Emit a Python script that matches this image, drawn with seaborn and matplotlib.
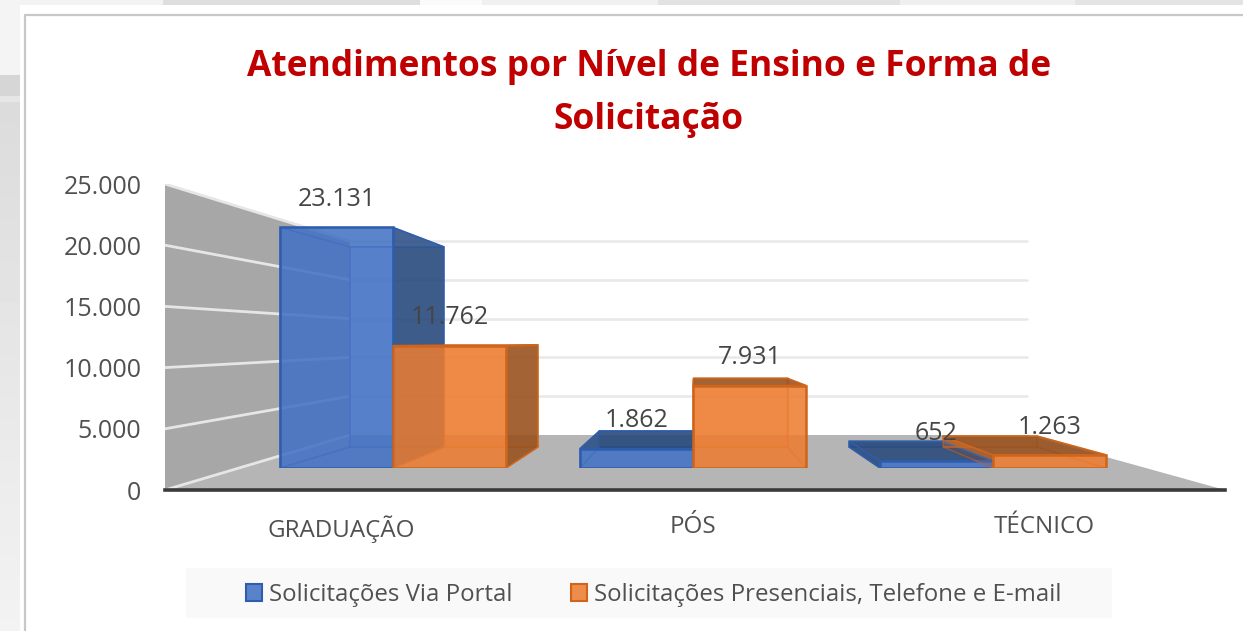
# -*- coding: utf-8 -*-
import numpy as np
import pandas as pd
import matplotlib
matplotlib.use('Agg')
import matplotlib.pyplot as plt
from matplotlib.colors import to_rgba
from matplotlib.patches import Polygon, Patch, Rectangle
import seaborn as sns

niveis = ['GRADUAÇÃO', 'PÓS', 'TÉCNICO']
formas = ['Solicitações Via Portal', 'Solicitações Presenciais, Telefone e E-mail']
via_portal = [23131, 1862, 652]
presenciais = [11762, 7931, 1263]
y_ticks = [0, 5000, 10000, 15000, 20000, 25000]
titulo = 'Atendimentos por Nível de Ensino e Forma de\nSolicitação'

cores = ['#4472C4', '#ED7D31']
bordas = ['#2F5DAE', '#CF651D']
escuras = ['#254778', '#954F1C']

W, H = 1243, 631


def caixa(l, t, r, b):
    # posicao do eixo em pixels da imagem
    return [l / W, 1 - b / H, (r - l) / W, (b - t) / H]


def milhar(v):
    return f'{v:,}'.replace(',', '.')


sns.set_style('white')
plt.rcParams['font.family'] = ['Open Sans', 'DejaVu Sans']
fig = plt.figure(figsize=(W / 100, H / 100), dpi=100, facecolor='white')

# fundo do slide e moldura do cartao
bg = fig.add_axes([0, 0, 1, 1], zorder=0)
bg.set_xlim(0, W)
bg.set_ylim(H, 0)
bg.axis('off')
for x0, x1, c in [(0, 163, '#F3F3F3'), (163, 420, '#DEDEDE'), (420, 482, '#FAFAFA'),
                  (482, 658, '#EFF0F0'), (658, 900, '#E2E2E2'), (900, 1075, '#EEF0EF'),
                  (1075, 1243, '#E4E4E4')]:
    bg.add_patch(Rectangle((x0, 0), x1 - x0, 5, fc=c, ec='none'))
bg.add_patch(Rectangle((0, 0), 20, 75, fc='#F4F4F4', ec='none'))
bg.add_patch(Rectangle((0, 75), 20, 21, fc='#D6D6D6', ec='none'))
bg.add_patch(Rectangle((0, 96), 20, 6, fc='#E6E6E6', ec='none'))
bg.imshow(np.linspace(0.86, 0.95, 50).reshape(-1, 1), extent=(0, 20, H, 102), cmap='gray',
          vmin=0, vmax=1, aspect='auto')
bg.set_xlim(0, W)
bg.set_ylim(H, 0)
bg.plot([25, 25, W], [H, 14.5, 14.5], color='#C8C8C8', lw=1.6)
bg.text(649, 67, titulo.split('\n')[0], color='#C00000', fontsize=25.5, fontweight='bold',
        ha='center', va='center')
bg.text(649, 120, titulo.split('\n')[1], color='#C00000', fontsize=25.5, fontweight='bold',
        ha='center', va='center')

# legenda
bg.add_patch(Rectangle((186, 568), 926, 50, fc='#F9F9F9', ec='none'))
handles = [Patch(fc=to_rgba(c, 0.88), ec=e, lw=1.5) for c, e in zip(cores, bordas)]
bg.legend(handles, formas, loc='center', bbox_to_anchor=(654, 595),
          bbox_transform=bg.transData, ncol=2, frameon=False, fontsize=17.3,
          labelcolor='#505050', handlelength=0.66, handleheight=0.66, handletextpad=0.28,
          columnspacing=2.45)

# paredes e chao
wall = fig.add_axes(caixa(165, 184, 1225, 490), zorder=1)
wall.patch.set_alpha(0)
wall.set_xlim(0, 1)
wall.set_ylim(0, 25000)
back_l, back_r = (350 - 165) / 1060, (1027 - 165) / 1060
back_y0, back_y1 = (490 - 435) / 0.01224, (490 - 241) / 0.01224


def no_fundo(v):
    return back_y0 + v * (back_y1 - back_y0) / 25000


wall.add_patch(Polygon([(0, 0), (0, 25000), (back_l, no_fundo(25000)), (back_l, no_fundo(0))],
                       fc='#A7A7A7', ec='none'))
wall.add_patch(Polygon([(0, 0), (back_l, no_fundo(0)), (back_r, no_fundo(0)), (1, 0)],
                       fc='#B5B5B5', ec='none'))
for v in y_ticks:
    wall.plot([0, back_l], [v, no_fundo(v)], color='#E6E6E6', lw=2)
    if v > 0:
        wall.plot([back_l, back_r], [no_fundo(v)] * 2, color='#E8E8E8', lw=1.8)
sns.despine(ax=wall, left=True, top=True, right=True)
wall.spines['bottom'].set_color('#3A3A3A')
wall.spines['bottom'].set_linewidth(2.6)
wall.set_yticks(y_ticks)
wall.set_yticklabels([milhar(v) for v in y_ticks], fontsize=18, color='#505050',
                     va='center_baseline')
wall.set_xticks([(341 - 165) / 1060, (693 - 165) / 1060, (1044 - 165) / 1060])
wall.set_xticklabels(niveis, fontsize=17.4, color='#505050')
wall.tick_params(axis='y', length=0, pad=17)
wall.tick_params(axis='x', length=0, pad=18)

# barras: a face da frente vem do seaborn, o resto e perspectiva a partir dela
df = pd.DataFrame({
    'nivel': niveis * 2,
    'forma': [formas[0]] * 3 + [formas[1]] * 3,
    'valor': via_portal + presenciais,
})
ax = fig.add_axes(caixa(165, 184, 1225, 468), zorder=2)
ax.patch.set_alpha(0)
sns.barplot(data=df, x='nivel', y='valor', hue='forma', hue_order=formas, order=niveis,
            palette=cores, width=0.7533, gap=0, saturation=1, legend=False, ax=ax)
ax.set_xlim((165 - 393) / 300, (1225 - 393) / 300)
ax.set_ylim(0, (468 - 184) / 0.0104)
ax.axis('off')

# ponto de fuga e profundidade das barras
vx = (696 - 393) / 300
vy = (468 - 343) / 0.0104
k = 0.168


def atras(x, y):
    return x + k * (vx - x), y + k * (vy - y)


barras = [p for p in ax.patches if p.get_height() > 0]
for i, p in enumerate(barras):
    s = i // 3
    z = 3 + 2 * s + i % 3 * 0.01
    x0, x1, y1 = p.get_x(), p.get_x() + p.get_width(), p.get_height()
    fl = (x0, 0), (x1, 0), (x1, y1), (x0, y1)
    bl = [atras(*c) for c in fl]
    faces = {'baixo': (0, 1), 'dir': (1, 2), 'topo': (2, 3), 'esq': (3, 0)}
    interna = to_rgba(bordas[s], 0.55)
    ax.add_patch(Polygon(bl, fc=to_rgba(cores[s], 0.3), ec=interna, lw=1.1, zorder=z))
    for nome, (a, b) in faces.items():
        fora = ((nome == 'dir' and bl[1][0] > x1) or (nome == 'esq' and bl[0][0] < x0)
                or (nome == 'topo' and bl[2][1] > y1))
        fc = to_rgba(escuras[s], 0.85) if fora else to_rgba(cores[s], 0.15)
        # face esquerda laranja fica atras da barra azul vizinha
        zf = 2.5 if (nome == 'esq' and s == 1) else z + 0.1
        ax.add_patch(Polygon([fl[a], fl[b], bl[b], bl[a]], fc=fc,
                             ec=bordas[s] if fora else interna, lw=1.1, zorder=zf))
    p.set_facecolor(to_rgba(cores[s], 0.85))
    p.set_edgecolor(bordas[s])
    p.set_linewidth(1.8)
    p.set_zorder(z + 0.5)
    ax.annotate(milhar(int(y1)), (x0 / 2 + x1 / 2, y1), xytext=(0, 20),
                textcoords='offset points', ha='center', va='center', fontsize=18,
                color='#454545', zorder=10)

plt.savefig('out.png', dpi=100)
